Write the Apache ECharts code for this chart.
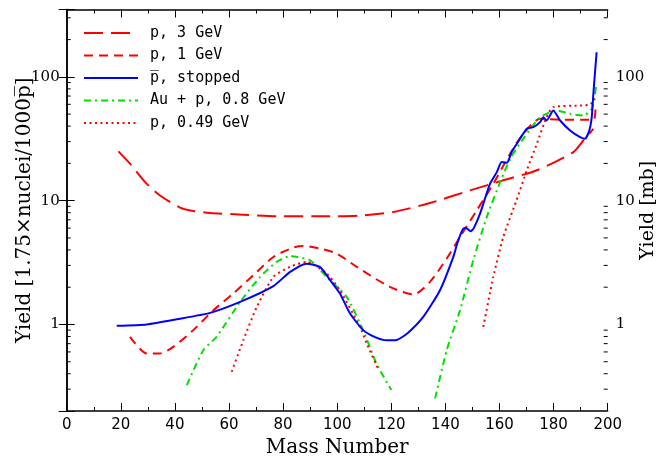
<!DOCTYPE html>
<html>
<head>
<meta charset="utf-8">
<script src="https://cdn.jsdelivr.net/npm/echarts@6/dist/echarts.min.js"></script>
<style>
html,body{margin:0;padding:0;background:#fff;}
#chart{width:658px;height:460px;}
</style>
</head>
<body>
<div id="chart"></div>
<script>
// ---- Data ----
const seriesNames = ['p, 3 GeV', 'p, 1 GeV', 'p\u0305, stopped', 'Au + p, 0.8 GeV', 'p, 0.49 GeV'];

// p, 3 GeV
const A_3GeV = [19.1, 23.4, 29, 34.5, 41.9, 46.8, 53, 65.2, 77.6, 97.3, 108, 120.7, 134.3, 149.1, 161.4, 173.8, 187.3, 191, 194.7];
const Y_3GeV = [25, 19.9, 14.1, 11.0, 8.8, 8.25, 7.95, 7.7, 7.47, 7.47, 7.55, 8.1, 9.57, 12.1, 14.6, 17.6, 24.7, 30.6, 38];

// p, 1 GeV
const A_1GeV = [23.4, 29.6, 34.5, 39.4, 46.8, 54.2, 61.6, 69, 76.4, 83.8, 87.5, 93.6, 99.8, 107.2, 119.5, 128.2, 134.3, 140.5, 145.4, 151.6, 157.7, 163.9, 168.8, 175, 183.6, 194.7, 195.5];
const Y_1GeV = [0.795, 0.584, 0.584, 0.66, 0.90, 1.30, 1.78, 2.50, 3.51, 4.18, 4.30, 4.10, 3.74, 2.92, 2.01, 1.75, 2.21, 3.41, 5.09, 8.35, 13.7, 23.9, 34.7, 45.8, 45, 45, 57];

// pbar, stopped
const A_pbar = [18.5, 29.6, 40.7, 53, 64.1, 76.4, 82.6, 88.7, 93.6, 97.4, 101, 104.7, 109.6, 114, 118.3, 122, 126, 131.8, 138, 142.9, 144.5, 146.5, 147.5, 149.3, 150.5, 152.8, 156.5, 159, 160.8, 162.7, 164.5, 166.4, 170.1, 172.5, 175, 176.2, 177.4, 179.9, 182.4, 186.1, 189.8, 191.6, 193.2, 194.1, 194.7, 195.9];
const Y_pbar = [0.975, 1.0, 1.10, 1.24, 1.52, 2.04, 2.66, 3.10, 2.92, 2.28, 1.78, 1.23, 0.90, 0.79, 0.745, 0.75, 0.85, 1.15, 1.89, 3.5, 4.6, 5.9, 6.05, 5.65, 6.0, 7.85, 13.7, 17.0, 20.5, 20.2, 24.7, 28.8, 38.1, 39.2, 43.1, 47.2, 44.4, 53.5, 44.4, 36.9, 32.6, 31.6, 36.9, 47.2, 73, 158];

// Au + p, 0.8 GeV (two segments)
const A_Au1 = [44.4, 50.5, 55.4, 64.1, 71.5, 77.6, 82.6, 90, 96.1, 97.4, 103.5, 109.6, 114.5, 120];
const Y_Au1 = [0.324, 0.62, 0.795, 1.52, 2.42, 3.2, 3.56, 3.30, 2.42, 2.28, 1.67, 0.90, 0.484, 0.295];
const A_Au2 = [136.2, 140.5, 145.4, 150.3, 155.3, 160.5, 164.3, 169.2, 175, 181.2, 186.1, 191, 194.1, 195.9];
const Y_Au2 = [0.253, 0.62, 1.30, 3.30, 7.38, 14.6, 22.5, 32.6, 47.2, 53.5, 50.3, 48.7, 55.2, 87.8];

// p, 0.49 GeV (two segments)
const A_049a = [61, 65.3, 70.3, 76.4, 82.6, 88.7, 96.1, 101, 108.4, 110.9, 115.5];
const Y_049a = [0.415, 0.747, 1.39, 2.42, 2.92, 3.2, 2.58, 1.89, 0.956, 0.703, 0.42];
const A_049b = [154, 157.7, 161.4, 166.3, 170.1, 173.8, 177.4, 179.9, 189.8, 193.5, 195.3];
const Y_049b = [0.956, 2.42, 5.09, 10.1, 17.6, 28.8, 47.2, 56.9, 58.7, 59.8, 66.5];

// Axes
const xMin = 0, xMax = 200, xStep = 20;
const yMin = 0.2, yMax = 350;
const yMajorLabels = [1, 10, 100];
const yMinorTicks = [0.3, 0.4, 0.5, 0.6, 0.7, 0.8, 0.9, 2, 3, 4, 5, 6, 7, 8, 9, 20, 30, 40, 50, 60, 70, 80, 90, 200, 300];

// ---- Build ----
const zip = (a, b) => a.map((v, i) => [v, b[i]]);
const gap = '-';

const chart = echarts.init(document.getElementById('chart'), null, {renderer: 'canvas'});
const axisColor = '#000';
const serifFont = '"DejaVu Serif", serif';
const sansFont = '"DejaVu Sans", sans-serif';

const baseX = {
  type: 'value', min: xMin, max: xMax, interval: xStep,
  axisLine: {show: true, lineStyle: {color: axisColor, width: 1.5}},
  axisTick: {show: true, inside: true, length: 8, lineStyle: {color: axisColor, width: 1}},
  minorTick: {show: true, splitNumber: 2, length: 4, lineStyle: {color: axisColor, width: 1}},
  splitLine: {show: false}, minorSplitLine: {show: false}
};
const yLabelFmt = v => {
  const m = yMajorLabels.find(t => Math.abs(v - t) / t < 1e-6);
  return m ? String(m) : '';
};
const baseY = {
  type: 'log', logBase: 10, min: yMin, max: yMax,
  axisLine: {show: true, lineStyle: {color: axisColor, width: 1.5}},
  axisTick: {show: true, inside: true, length: 8, lineStyle: {color: axisColor, width: 1}},
  splitLine: {show: false}
};

const option = {
  animation: false,
  backgroundColor: '#fff',
  grid: {left: 66.7, right: 50.3, top: 9.5, bottom: 49, containLabel: false, outerBoundsMode: 'none'},
  legend: {
    orient: 'vertical', left: 83, top: 24, padding: 0,
    itemWidth: 54, itemHeight: 14, itemGap: 4.5,
    data: seriesNames,
    itemStyle: {opacity: 0},
    textStyle: {fontFamily: '"DejaVu Sans Mono", monospace', fontSize: 15, color: '#000', lineHeight: 18, padding: [0, 0, 0, 7]}
  },
  xAxis: [
    Object.assign({}, baseX, {
      position: 'bottom',
      name: 'Mass Number', nameLocation: 'middle', nameGap: 27, nameMoveOverlap: false,
      nameTextStyle: {fontFamily: serifFont, fontSize: 20, color: '#000'},
      axisLabel: {show: true, margin: 7, color: '#000', fontFamily: sansFont, fontSize: 15}
    }),
    Object.assign({}, baseX, {position: 'top', axisLabel: {show: false}})
  ],
  yAxis: [
    Object.assign({}, baseY, {
      position: 'left',
      name: 'Yield [1.75\u00d7nuclei/1000p\u0305]', nameLocation: 'middle', nameGap: 32, nameRotate: 90, nameMoveOverlap: false,
      nameTextStyle: {fontFamily: serifFont, fontSize: 20, color: '#000'},
      axisLabel: {show: true, margin: 7, color: '#000', fontFamily: serifFont, fontSize: 15, formatter: yLabelFmt}
    }),
    Object.assign({}, baseY, {
      position: 'right',
      name: 'Yield [mb]', nameLocation: 'middle', nameGap: 31, nameRotate: 90, nameMoveOverlap: false,
      nameTextStyle: {fontFamily: serifFont, fontSize: 19, color: '#000'},
      axisLabel: {show: true, margin: 8, color: '#000', fontFamily: serifFont, fontSize: 15, formatter: yLabelFmt}
    })
  ],
  series: [
    {
      name: seriesNames[0], type: 'line', symbol: 'none', smooth: 0.25,
      data: zip(A_3GeV, Y_3GeV),
      lineStyle: {color: '#ff0000', width: 2, type: [19, 8]}, itemStyle: {color: '#ff0000'}
    },
    {
      name: seriesNames[1], type: 'line', symbol: 'none', smooth: 0.25,
      data: zip(A_1GeV, Y_1GeV),
      lineStyle: {color: '#ff0000', width: 2, type: [9, 6]}, itemStyle: {color: '#ff0000'}
    },
    {
      name: seriesNames[2], type: 'line', symbol: 'none', smooth: 0.2, z: 4,
      data: zip(A_pbar, Y_pbar),
      lineStyle: {color: '#0000ff', width: 2, type: 'solid'}, itemStyle: {color: '#0000ff'}
    },
    {
      name: seriesNames[3], type: 'line', symbol: 'none', smooth: 0.2, connectNulls: false,
      data: zip(A_Au1, Y_Au1).concat([gap]).concat(zip(A_Au2, Y_Au2)),
      lineStyle: {color: '#00e000', width: 2, type: [7, 4, 2, 4]}, itemStyle: {color: '#00e000'}
    },
    {
      name: seriesNames[4], type: 'line', symbol: 'none', smooth: 0.2, connectNulls: false,
      data: zip(A_049a, Y_049a).concat([gap]).concat(zip(A_049b, Y_049b)),
      lineStyle: {color: '#ff0000', width: 2, type: [2, 3.5]}, itemStyle: {color: '#ff0000'}
    },
    {
      type: 'custom', name: 'minorTicksY', xAxisIndex: 0, yAxisIndex: 0, silent: true, z: 5,
      data: yMinorTicks.map(v => [xMin, v]),
      renderItem: function (params, api) {
        const v = api.value(1);
        const l = api.coord([xMin, v]);
        const r = api.coord([xMax, v]);
        return {
          type: 'group', children: [
            {type: 'line', shape: {x1: l[0], y1: l[1], x2: l[0] + 4, y2: l[1]}, style: {stroke: '#000', lineWidth: 1}},
            {type: 'line', shape: {x1: r[0] - 4, y1: r[1], x2: r[0], y2: r[1]}, style: {stroke: '#000', lineWidth: 1}}
          ]
        };
      }
    }
  ]
};
chart.setOption(option);
</script>
</body>
</html>
